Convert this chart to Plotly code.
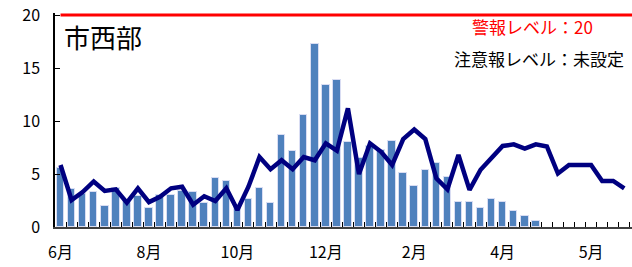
import plotly.graph_objects as go

# weekly categories (index positions)
weeks = list(range(52))
bar_values = [5.6, 3.6, 3.1, 3.3, 2.0, 3.7, 2.5, 2.9, 1.8, 3.0,
              3.0, 3.4, 3.3, 2.3, 4.6, 4.3, 1.9, 2.6, 3.7, 2.3,
              8.7, 7.2, 10.6, 17.3, 13.4, 13.9, 8.0, 6.5, 7.6, 7.3,
              8.1, 5.1, 3.9, 5.4, 6.0, 4.7, 2.4, 2.4, 1.8, 2.6,
              2.4, 1.5, 1.0, 0.6]
line_values = [5.85, 2.55, 3.3, 4.3, 3.4, 3.55, 2.3, 3.65, 2.35, 2.85,
               3.65, 3.8, 2.1, 2.9, 2.45, 3.65, 1.6, 3.8, 6.6, 5.45,
               6.3, 5.45, 6.6, 6.3, 7.9, 7.2, 11.2, 5.0, 7.9, 7.1,
               5.85, 8.3, 9.2, 8.3, 4.6, 3.55, 6.8, 3.5, 5.4, 6.5,
               7.65, 7.8, 7.4, 7.8, 7.6, 5.05, 5.85, 5.85, 5.85, 4.35,
               4.35, 3.65]
alarm_level = 20
tick_positions = [0, 8, 16, 24, 32, 40, 48]
tick_labels = ["6月", "8月", "10月", "12月", "2月", "4月", "5月"]
region_title = "市西部"
alarm_text = "警報レベル：20"
caution_text = "注意報レベル：未設定"

FONT = "Noto Sans CJK JP"

fig = go.Figure()
fig.add_trace(go.Bar(
    x=weeks[:len(bar_values)], y=bar_values, width=0.68,
    marker=dict(color="#4F81BD", line=dict(color="#D9DDF3", width=1)),
    showlegend=False, hoverinfo="skip"))
fig.add_trace(go.Scatter(
    x=weeks[:len(line_values)], y=line_values, mode="lines",
    line=dict(color="#000080", width=4.5), showlegend=False, hoverinfo="skip"))
fig.add_trace(go.Scatter(
    x=list(range(53)), y=[alarm_level] * 53, mode="lines",
    line=dict(color="#FF0000", width=3), showlegend=False, hoverinfo="skip"))

fig.update_layout(
    width=632, height=267,
    margin=dict(l=55, r=0, t=13, b=40),
    plot_bgcolor="white", paper_bgcolor="white",
    font=dict(family=FONT, size=16, color="black"),
    bargap=0,
    xaxis=dict(range=[-0.5, 51.7], tickmode="array", tickvals=tick_positions,
               ticktext=tick_labels, ticks="inside", ticklen=0,
               showline=True, linecolor="#404040", linewidth=2,
               showgrid=False, zeroline=False, ticklabelstandoff=10,
               tickfont=dict(family=FONT, size=16),
               minor=dict(tickmode="array",
                          tickvals=[k + 0.5 for k in range(52)],
                          ticks="inside", ticklen=5, tickwidth=1,
                          tickcolor="black", showgrid=False)),
    yaxis=dict(range=[0, 20.2], tickmode="array", tickvals=[0, 5, 10, 15, 20],
               ticks="inside", ticklen=5, tickcolor="black",
               showline=True, linecolor="black", linewidth=1.5,
               showgrid=False, zeroline=False, ticklabelstandoff=10,
               tickfont=dict(family=FONT, size=16)),
    annotations=[
        dict(text=region_title, xref="paper", yref="paper", x=0.012, y=0.888,
             xanchor="left", yanchor="middle", showarrow=False,
             font=dict(family=FONT, size=26, color="black")),
        dict(text=alarm_text, xref="paper", yref="paper", x=0.936, y=0.936,
             xanchor="right", yanchor="middle", showarrow=False,
             font=dict(family=FONT, size=17, color="#FF0000")),
        dict(text=caution_text, xref="paper", yref="paper", x=0.99, y=0.788,
             xanchor="right", yanchor="middle", showarrow=False,
             font=dict(family=FONT, size=17, color="black")),
    ],
)

fig.write_html("out.html",
               config={"displayModeBar": False},
               post_script="document.body.style.margin='0';document.body.style.overflow='hidden';")
